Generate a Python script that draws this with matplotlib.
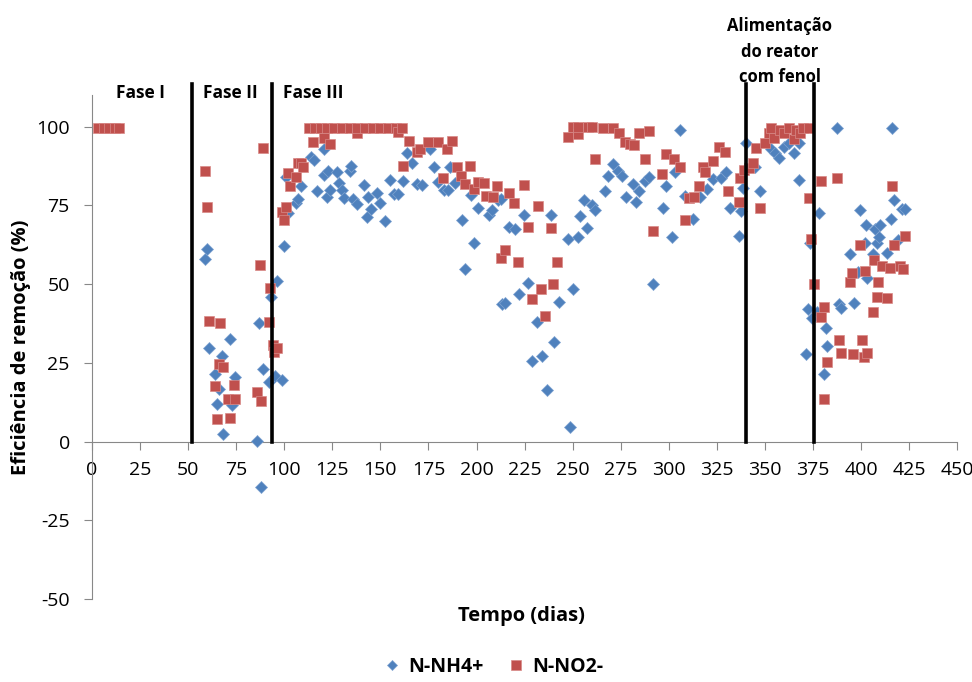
import matplotlib
matplotlib.use("Agg")
import matplotlib.pyplot as plt

plt.rcParams['font.family'] = ['Open Sans', 'DejaVu Sans']
plt.rcParams['axes.unicode_minus'] = False

# N-NH4+ (dias, eficiencia %)
nh4_dias = [59, 60, 61, 64, 65, 66, 67.5, 68, 72, 73, 74.5, 86, 87, 88, 89, 92, 93, 95, 96, 99,
            100, 101, 102, 106, 107, 108.6, 113.8, 115.4, 117, 120.6, 120.6, 122.7, 122, 124,
            127.3, 128.4, 130, 131, 134, 134.6, 136, 137.7, 141.4, 143, 143.4, 145, 148, 150,
            152.3, 155, 157, 159, 162, 163.7, 166.3, 169, 171.5, 176, 178, 180, 183, 185, 186,
            189, 192.3, 194, 197, 198.6, 201, 206.3, 207.9, 211, 212.6, 213, 215, 217, 220, 222,
            224.5, 226.6, 229, 231.3, 233.9, 236.5, 238.6, 240.3, 242.7, 247.4, 248.5, 250,
            252.6, 253.6, 255.7, 257.3, 259.9, 261.4, 266.6, 268.2, 270.8, 273.4, 275.5, 277.5,
            281.2, 282.7, 284.3, 287.4, 289.5, 291.6, 296.8, 298.3, 301.5, 303.5, 305.6, 308.7,
            312.4, 316, 320, 322.8, 327, 330, 331.6, 336.3, 337.8, 338.4, 340, 345, 347.7, 353,
            355.5, 357.6, 359.7, 362.3, 364.9, 367.5, 368, 371.6, 372.2, 373.7, 374.7, 377.3,
            378.4, 380.5, 382, 382.5, 387.7, 388.8, 389.8, 394.5, 396.6, 398.6, 399.7, 402.3,
            402.8, 403.3, 406.4, 407.5, 408.5, 409.6, 410, 413.7, 415.8, 416.3, 417.4, 419.5,
            421.5, 423]
nh4_ef = [58, 61, 29.6, 21.3, 12, 16.6, 27, 2.5, 32.5, 11.5, 20.4, 0.3, 37.6, -14.6, 23, 19, 46,
          20.7, 51, 19.5, 62, 84, 72.6, 75.8, 77, 81, 90.4, 89.5, 79.6, 92.7, 84.7, 86, 77.7, 79.9,
          85.7, 82.2, 80, 77.4, 86, 87.6, 77, 75.5, 81.5, 71.3, 77.7, 73.9, 79, 75.8, 70, 83.1,
          78.7, 78.7, 82.8, 91.7, 88.5, 81.8, 81.5, 92.7, 87.3, 82.5, 80, 80, 87.3, 82.2, 70.4,
          54.8, 78.3, 63, 74.2, 72, 73.6, 76.8, 77, 43.6, 44, 68.2, 67.5, 46.8, 72, 50.3, 25.5,
          37.9, 27.1, 16.2, 72, 31.5, 44.3, 64.3, 4.5, 48.4, 65, 71.6, 76.8, 67.8, 75.2, 73.6,
          79.6, 84.4, 88.2, 86, 84.4, 77.7, 81.8, 76.1, 79.6, 82.8, 84, 50, 74.2, 81, 65, 85.7,
          99, 78, 70.7, 77.7, 80.3, 83.4, 83.8, 85.4, 74.2, 65.3, 73.2, 80.6, 94.9, 87, 79.6,
          92.7, 91.7, 90, 93.6, 94.9, 91.7, 94.9, 83.1, 27.7, 42, 63, 39.2, 41, 72.6, 21.3, 36,
          30.3, 99.4, 43.6, 42.4, 59.6, 44, 53.8, 73.6, 63, 68.8, 51.9, 59.6, 67.5, 63, 65, 68.8,
          59.9, 70.7, 99.4, 76.8, 64, 73.9, 73.9]

# N-NO2- (dias, eficiencia %)
no2_dias = [3, 6, 9, 12, 14, 58.7, 59.8, 60.8, 64, 65, 66, 66.5, 68, 70.5, 71.7, 74, 74.5, 85.8,
            87.3, 87.8, 88.9, 92, 92.5, 94, 94.6, 96, 99, 100, 101, 102, 103, 106, 107, 108.6,
            109.7, 113, 115, 116, 119, 120.6, 122, 123.7, 126, 130, 134, 138, 138, 142, 146, 150,
            154, 158, 159, 161, 161.6, 164.8, 169, 170.5, 175, 180, 182.4, 184.5, 187, 189.7,
            191.8, 194, 196.5, 198.5, 201, 203.7, 205, 208.4, 210.5, 212.6, 214.6, 216.7, 219.3,
            221.4, 224.5, 226.6, 228.7, 231.8, 233.4, 235.5, 238.6, 240, 242, 247.4, 250, 252.6,
            253, 257.8, 260, 261.4, 266, 270.8, 274, 277, 280, 282, 284.3, 287.4, 289.5, 291.6,
            296.3, 298.3, 302.5, 305.6, 308.7, 310.3, 313, 315.5, 317.6, 319, 322.8, 326, 329.5,
            331, 336.3, 336.8, 338.9, 341.5, 344, 345.6, 347.2, 350.3, 352, 353, 354.5, 358,
            359.7, 362.3, 365, 366, 368.5, 370, 372.7, 372.7, 374.2, 375.3, 379, 379, 380.5, 381,
            382.5, 387.7, 388.3, 389.8, 394.5, 395.5, 396, 399.7, 400.7, 401.3, 402.3, 403.3,
            406.4, 407, 408.5, 409, 411, 413.7, 415.3, 416.3, 417.4, 420.5, 422, 423]
no2_ef = [99.5, 99.5, 99.5, 99.5, 99.5, 86, 74.5, 38.2, 17.5, 7.3, 24.5, 37.6, 23.6, 13.4, 7.6,
          18, 13.4, 15.6, 56, 12.7, 93.3, 38, 48.7, 30.6, 28.3, 29.6, 73, 70.4, 74.5, 85.3, 81,
          84, 88.5, 88.5, 87.3, 99.5, 95, 99.5, 99.5, 96.5, 99.5, 94.6, 99.5, 99.5, 99.5, 98,
          99.5, 99.5, 99.5, 99.5, 99.5, 99.5, 98.4, 99.5, 87.6, 95.5, 92, 93, 95.2, 95.2, 83.8,
          93, 95.5, 87.3, 84.4, 81.8, 87.6, 80.3, 82.5, 82.2, 78, 77.7, 81, 58.3, 60.8, 79, 75.8,
          57, 81.5, 68.2, 45.2, 74.8, 48.4, 39.8, 67.8, 50, 57, 96.8, 99.7, 97.5, 99.7, 99.7,
          99.7, 89.8, 99.4, 99.4, 97.8, 95.2, 94.6, 94, 98, 89.8, 98.7, 66.9, 85, 91.4, 89.8,
          87.3, 70.4, 77.4, 77.7, 81, 87, 85.7, 88.9, 93.6, 92, 79.6, 76.1, 83.8, 86.3, 86.9,
          88.5, 93.3, 74.2, 94.9, 98, 99.4, 96.5, 99, 98, 99.4, 95.9, 99, 98, 99.4, 99.4, 77.4,
          64.3, 50, 82.8, 39.5, 13.4, 42.7, 25.2, 83.8, 32.2, 28, 50.6, 53.5, 27.7, 62.4, 32.2,
          26.8, 54.1, 28, 41.1, 57.6, 45.9, 50.6, 55.7, 45.5, 55.1, 81, 62.4, 55.7, 54.8, 65.3]

# limites das fases e inicio/fim da alimentacao com fenol
marcos = [52, 93.6, 340, 375.3]
fases = ["Fase I", "Fase II", "Fase III"]
fases_x = [25, 72, 115]

xticks = list(range(0, 451, 25))
yticks = [-50, -25, 0, 25, 50, 75, 100]

fig = plt.figure(figsize=(9.72, 6.82), dpi=100)
ax = fig.add_axes([0.0947, 0.1217, 0.89, 0.739])

ax.plot(nh4_dias, nh4_ef, linestyle='none', marker='D', markersize=6,
        color='#4F81BD', markeredgecolor='#7FA3D1', markeredgewidth=0.5, label='N-NH4+', zorder=3)
ax.plot(no2_dias, no2_ef, linestyle='none', marker='s', markersize=7.3,
        color='#C0504D', markeredgecolor='#D88A88', markeredgewidth=0.5, label='N-NO2-', zorder=4)

for m in marcos:
    ax.plot([m, m], [0, 113.5], color='black', linewidth=2.6, clip_on=False, zorder=5)

ax.set_xlim(0, 450)
ax.set_ylim(-50, 110)
ax.set_xticks(xticks)
ax.set_yticks(yticks)

ax.spines['top'].set_visible(False)
ax.spines['right'].set_visible(False)
ax.spines['bottom'].set_position(('data', 0))
ax.spines['left'].set_color('#888888')
ax.spines['bottom'].set_color('#888888')
ax.tick_params(axis='both', colors='#888888', labelcolor='black', labelsize=14,
               direction='out', length=6)
ax.tick_params(axis='x', pad=8)
ax.tick_params(axis='y', pad=10)

for f, x in zip(fases, fases_x):
    ax.text(x, 110.5, f, ha='center', va='center', fontsize=12.5, fontweight='bold')

ax.text(357.7, 123.8, "Alimentação\ndo reator\ncom fenol", ha='center', va='center',
        fontsize=12, fontweight='bold', linespacing=1.55, clip_on=False)

ax.set_ylabel("Eficiência de remoção (%)", fontsize=14.5, fontweight='bold', labelpad=4)
fig.text(0.536, 0.097, "Tempo (dias)", ha='center', va='center', fontsize=14.5, fontweight='bold')

fig.legend(loc='center', bbox_to_anchor=(0.508, 0.022), ncol=2, frameon=False,
           prop={'size': 14, 'weight': 'bold'}, handletextpad=0.4, columnspacing=1.3,
           handlelength=0.8, markerscale=0.9)

fig.savefig("out.png", dpi=100)
